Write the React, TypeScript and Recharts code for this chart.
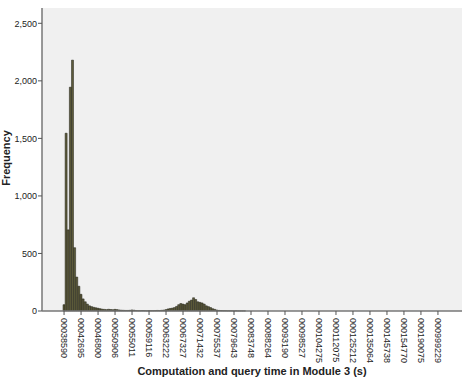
import React from "react";
import { BarChart, Bar, XAxis, YAxis, CartesianGrid, Label } from "recharts";

// Tick labels shown every 8th category
const tickLabels: string[] = [
  "00038590", "00042695", "00046800", "00050906", "00055011", "00059116",
  "00063222", "00067327", "00071432", "00075537", "00079643", "00083748",
  "00088264", "00093190", "00098527", "000104275", "000112075", "000125212",
  "000135064", "000145738", "000154770", "000190075", "000999229",
];

// Frequency per category (177 categories)
const frequencies: number[] = [
  55, 1545, 705, 1945, 2180, 550, 295, 215, 145, 105,
  80, 60, 45, 38, 32, 28, 24, 20, 16, 14,
  12, 15, 13, 11, 14, 12, 9, 7, 6, 5,
  5, 6, 9, 7, 4, 3, 3, 4, 3, 2,
  4, 3, 3, 4, 5, 4, 6, 8, 12, 18,
  22, 25, 30, 40, 55, 65, 60, 55, 70, 85,
  95, 115, 100, 80, 75, 70, 60, 45, 38, 30,
  20, 14, 8, 5, 4, 3, 3, 2, 2, 2,
  1, 2, 1, 1, 1, 1, 0, 0, 0, 0,
  0, 0, 0, 0, 0, 0, 0, 0, 0, 0,
  0, 0, 0, 0, 0, 0, 0, 0, 0, 0,
  0, 0, 0, 0, 0, 0, 0, 0, 0, 0,
  0, 0, 0, 0, 0, 0, 0, 0, 0, 0,
  0, 0, 0, 0, 0, 0, 0, 0, 0, 0,
  0, 0, 0, 0, 0, 0, 0, 0, 0, 0,
  0, 0, 0, 0, 0, 0, 0, 0, 0, 0,
  0, 0, 0, 0, 0, 0, 0, 0, 0, 0,
  0, 0, 0, 0, 0, 0, 0,
];

const yTicks: number[] = [0, 500, 1000, 1500, 2000, 2500];

const LABEL_STEP = 8;
const FONT = "'Liberation Sans', Arial, sans-serif";

const data = frequencies.map((f, i) => ({ idx: i, freq: f }));

const XTick = (props: any) => {
  const { x, y, payload } = props;
  const label = tickLabels[Math.round(payload.value / LABEL_STEP)] ?? "";
  return (
    <text
      x={x}
      y={y}
      transform={`rotate(90, ${x}, ${y})`}
      dy="0.35em"
      textAnchor="start"
      fontSize={9}
      fill="#222"
      fontFamily={FONT}
    >
      {label}
    </text>
  );
};

export default function App() {
  return (
    <div style={{ position: "absolute", left: 0, top: 0, width: 467, height: 381, background: "#fff" }}>
      <BarChart
        width={467}
        height={381}
        data={data}
        margin={{ top: 8, right: 5, left: 0, bottom: 0 }}
        barCategoryGap={0}
        barGap={0}
      >
        <CartesianGrid fill="#f0f0f0" horizontal={false} vertical={false} />
        <XAxis
          dataKey="idx"
          type="category"
          interval={LABEL_STEP - 1}
          height={70}
          padding={{ left: 21, right: 23 }}
          tick={<XTick />}
          tickSize={4}
          tickMargin={3}
          tickLine={{ stroke: "#555" }}
          axisLine={{ stroke: "#777", strokeWidth: 1.5 }}
        >
          <Label
            content={() => (
              <text
                x={252}
                y={375}
                textAnchor="middle"
                fontSize={11}
                fontWeight="bold"
                fill="#222"
                fontFamily={FONT}
              >
                Computation and query time in Module 3 (s)
              </text>
            )}
          />
        </XAxis>
        <XAxis
          xAxisId="top"
          orientation="top"
          height={0}
          tick={false}
          tickLine={false}
          axisLine={{ stroke: "#999", strokeWidth: 1.5 }}
        />
        <YAxis
          type="number"
          domain={[0, 2633]}
          ticks={yTicks}
          width={42}
          tickSize={4}
          tickMargin={1}
          tickFormatter={(v: number) => v.toLocaleString("en-US")}
          tick={{ fontSize: 9, fill: "#222", fontFamily: FONT }}
          tickLine={{ stroke: "#555" }}
          axisLine={{ stroke: "#777", strokeWidth: 1.5 }}
        >
          <Label
            content={() => (
              <text
                x={10}
                y={158}
                transform="rotate(-90, 10, 158)"
                textAnchor="middle"
                fontSize={11}
                fontWeight="bold"
                fill="#222"
                fontFamily={FONT}
              >
                Frequency
              </text>
            )}
          />
        </YAxis>
        <YAxis
          yAxisId="right"
          orientation="right"
          width={0}
          tick={false}
          tickLine={false}
          axisLine={{ stroke: "#999", strokeWidth: 1.5 }}
        />
        <Bar
          dataKey="freq"
          fill="#5d5b3b"
          stroke="#1e1e14"
          strokeWidth={0.5}
          isAnimationActive={false}
        />
      </BarChart>
    </div>
  );
}
